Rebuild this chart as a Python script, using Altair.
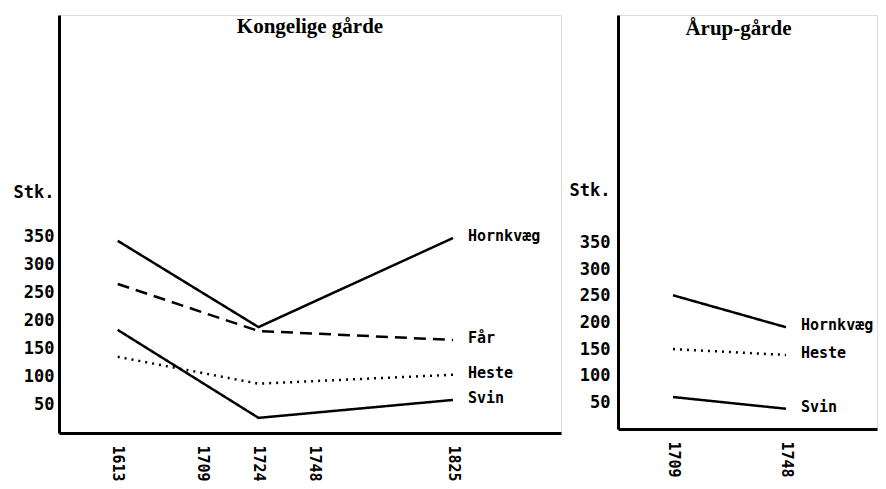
import altair as alt
import pandas as pd

# ---- data ----
series_names = ["Hornkvæg", "Får", "Heste", "Svin"]

years_left = [1613, 1724, 1825]
hornkvaeg_left = [343, 189, 348]
faar_left = [266, 182, 166]
heste_left = [136, 88, 104]
svin_left = [184, 27, 59]

years_right = [1709, 1748]
hornkvaeg_right = [251, 191]
heste_right = [150, 139]
svin_right = [60, 38]

left_ticks = [1613, 1709, 1724, 1748, 1825]
right_ticks = [1709, 1748]
y_ticks = [50, 100, 150, 200, 250, 300, 350]

title_left = "Kongelige gårde"
title_right = "Årup-gårde"
unit_label = "Stk."

# ---- tables ----
def build(years, series):
    rows = []
    for name, vals in series:
        for yr, v in zip(years, vals):
            rows.append({"series": name, "year": yr, "value": v})
    return pd.DataFrame(rows)

df_left = build(years_left, [("Hornkvæg", hornkvaeg_left), ("Får", faar_left),
                             ("Heste", heste_left), ("Svin", svin_left)])
df_right = build(years_right, [("Hornkvæg", hornkvaeg_right),
                               ("Heste", heste_right), ("Svin", svin_right)])

MONO = "DejaVu Sans Mono"
dash_scale = alt.Scale(domain=series_names,
                       range=[[1, 0], [12, 7], [2, 5], [1, 0]])


def panel(df, title, title_dx, title_offset, xdomain, xrange, ticks, width,
          height, ymax, stk_value, label_pad):
    xscale = alt.Scale(domain=xdomain, range=xrange, nice=False, zero=False)
    yscale = alt.Scale(domain=[0, ymax], nice=False, zero=True)
    xaxis = alt.Axis(values=ticks, labelAngle=90, title=None, grid=False,
                     ticks=False, domainColor="black", domainWidth=3,
                     labelFont=MONO, labelFontSize=15, labelFontWeight="bold",
                     labelColor="black", labelPadding=12, labelFlush=False,
                     labelOverlap=False, format="d")
    yaxis = alt.Axis(values=y_ticks + [stk_value], title=None, grid=False,
                     ticks=False, domainColor="black", domainWidth=3,
                     labelFont=MONO, labelFontSize=17, labelFontWeight="bold",
                     labelColor="black", labelPadding=label_pad,
                     labelOverlap=False, labelFlush=False,
                     labelExpr=f"datum.value == {stk_value} ? '{unit_label}' : datum.label")
    base = alt.Chart(df)
    lines = base.mark_line(color="black", strokeWidth=2.5).encode(
        x=alt.X("year:Q", scale=xscale, axis=xaxis),
        y=alt.Y("value:Q", scale=yscale, axis=yaxis),
        detail="series:N",
        strokeDash=alt.StrokeDash("series:N", scale=dash_scale, legend=None),
    )
    last_year = max(df["year"])
    labels = base.transform_filter(alt.datum.year == last_year).mark_text(
        align="left", baseline="middle", dx=15, dy=-2, font=MONO,
        fontSize=15, fontWeight="bold", color="black"
    ).encode(
        x=alt.X("year:Q", scale=xscale),
        y=alt.Y("value:Q", scale=yscale),
        text="series:N",
    )
    return alt.layer(lines, labels).properties(
        width=width, height=height,
        title=alt.TitleParams(title, font="Liberation Serif", fontSize=21,
                              fontWeight="bold", color="black",
                              anchor="middle", offset=title_offset,
                              dx=title_dx),
    )


left = panel(df_left, title_left, 0, -22,
             [1600, 1613, 1709, 1724, 1748, 1825, 1900],
             [0, 58.7, 143.7, 199.5, 255, 394, 502],
             left_ticks, 502, 418, 746, 430, 5)
right = panel(df_right, title_right, -9, -24,
              [1690, 1709, 1748, 1800],
              [0, 55, 168, 259],
              right_ticks, 259, 414, 777, 447, 8)

chart = alt.hconcat(left, right, spacing=57, bounds="flush").properties(
    padding={"left": 4, "top": 6, "right": 0, "bottom": 0}
).configure_view(stroke=None).configure(background="white")

chart.save("out.html", embed_options={"renderer": "svg", "actions": False})
